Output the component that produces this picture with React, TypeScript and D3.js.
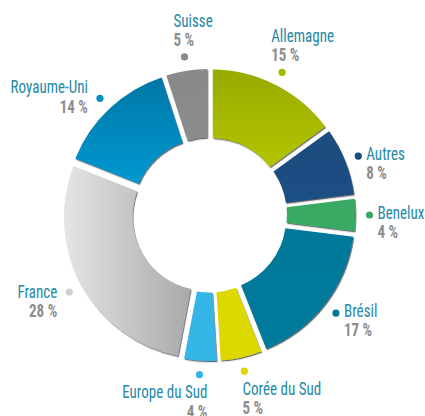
import React from "react";
import * as d3 from "d3";

const categories = ["Allemagne", "Autres", "Benelux", "Brésil", "Corée du Sud", "Europe du Sud", "France", "Royaume-Uni", "Suisse"];
const values = [15, 8, 4, 17, 5, 4, 28, 14, 5];
const colorsTop = ["#97aa00", "#1b4c80", "#38a862", "#00789a", "#dcd800", "#35b4e6", "#e4e5e6", "#0077a6", "#87898b"];
const colorsBottom = ["#b3c500", "#1b4f83", "#3aab64", "#007a9b", "#dcd800", "#35b4e6", "#a8a9ab", "#0098d1", "#8a8c8e"];
const dotColors = ["#a4b800", "#1b4c80", "#38a862", "#00789a", "#dcd800", "#35b4e6", "#cfcfd0", "#0090c8", "#87898b"];
const horizontalGradient = [false, false, false, false, false, false, true, false, false];

const W = 425, H = 416;
const cx = 209.5, cy = 215;
const R = 142, r0 = 73.5, explode = 4, labelR = 160;
const FS = 17.5, SX = 0.86;

export default function App() {
  const pie = d3.pie<number>().sort(null).value((d) => d);
  const arcs = pie(values);
  const arc = d3.arc<d3.PieArcDatum<number>>().innerRadius(r0).outerRadius(R).padAngle(0.03).padRadius(100);
  const font = "'Roboto Condensed', 'Liberation Sans Narrow', 'DejaVu Sans Condensed', 'Arial Narrow', sans-serif";
  return (
    <svg width={W} height={H} style={{ position: "absolute", left: 0, top: 0 }}>
      <defs>
        <filter id="sh" x="-20%" y="-20%" width="140%" height="140%">
          <feDropShadow dx="0.8" dy="1.2" stdDeviation="0.6" floodColor="#222" floodOpacity="0.7" />
        </filter>
        {categories.map((c, i) => (
          <linearGradient key={c} id={`g${i}`} x1="0" y1="0" x2={horizontalGradient[i] ? "1" : "0"} y2={horizontalGradient[i] ? "0" : "1"}>
            <stop offset="0%" stopColor={colorsTop[i]} />
            <stop offset="100%" stopColor={colorsBottom[i]} />
          </linearGradient>
        ))}
      </defs>
      <g transform={`translate(${cx},${cy})`}>
        {arcs.map((a, i) => {
          const mid = (a.startAngle + a.endAngle) / 2;
          const dx = explode * Math.sin(mid), dy = -explode * Math.cos(mid);
          return (
            <path key={i} d={arc(a) || ""} transform={`translate(${dx},${dy})`} fill={`url(#g${i})`} filter="url(#sh)" />
          );
        })}
        {arcs.map((a, i) => {
          const mid = (a.startAngle + a.endAngle) / 2;
          const s = Math.sin(mid), c = Math.cos(mid);
          const x = labelR * s, y = -labelR * c;
          let tx: number, ty1: number, ty2: number, anchor: "start" | "end";
          if (c > 0.85) {
            anchor = "start"; tx = x - 11; ty1 = y - 30; ty2 = y - 11;
          } else if (c < -0.85) {
            if (s > 0) { anchor = "start"; tx = x - 2; } else { anchor = "end"; tx = x + 8; }
            ty1 = y + 23.5; ty2 = y + 43;
          } else if (s > 0) {
            anchor = "start"; tx = x + 8; ty1 = y + 4; ty2 = y + 23;
          } else {
            anchor = "end"; tx = x - 12;
            if (c > 0.5) { ty1 = y - 5; ty2 = y + 14.5; } else { ty1 = y + 6; ty2 = y + 25; }
          }
          return (
            <g key={"l" + i}>
              <circle cx={x} cy={y} r={3.6} fill={dotColors[i]} />
              <g transform={`translate(${tx},0) scale(${SX},1)`}>
                <text x={0} y={ty1} textAnchor={anchor} fontFamily={font} fontSize={FS} fill="#2589a6">{categories[i]}</text>
                <text x={0} y={ty2} textAnchor={anchor} fontFamily={font} fontSize={FS} fontWeight="bold" fill="#8d8d8d">{`${values[i]} %`}</text>
              </g>
            </g>
          );
        })}
      </g>
    </svg>
  );
}
